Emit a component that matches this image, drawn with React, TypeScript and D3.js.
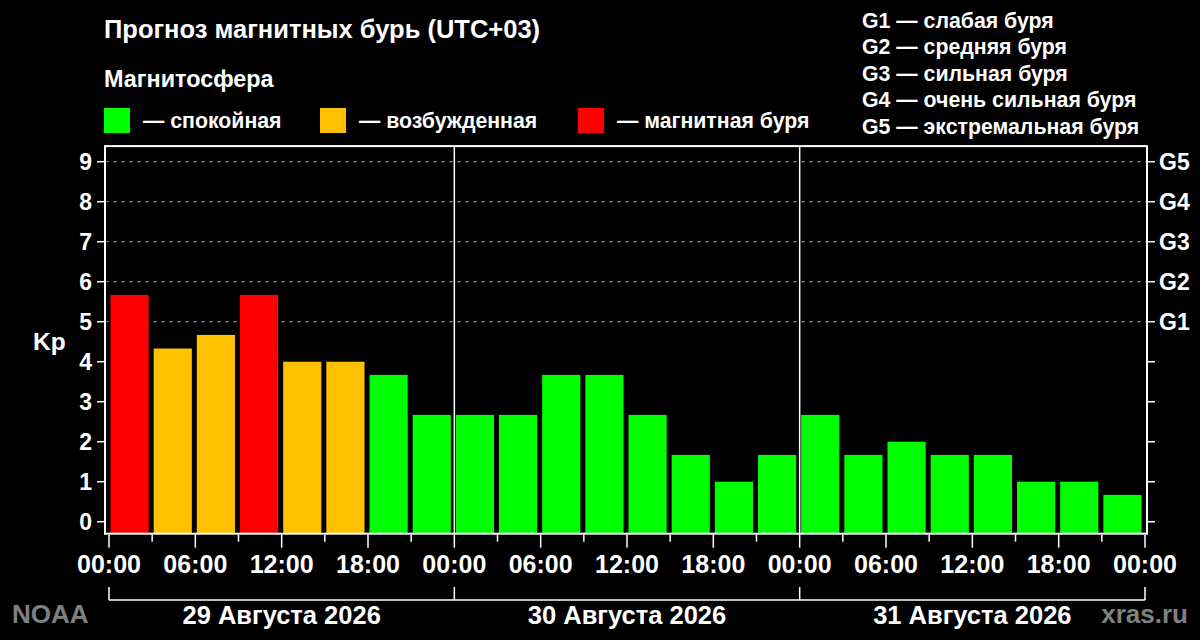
import React, { useEffect } from 'react';
import * as d3 from 'd3';

// Kp forecast, 3-hour intervals, UTC+03
const days = ['29 Августа 2026', '30 Августа 2026', '31 Августа 2026'];
const intervalHours = [0, 3, 6, 9, 12, 15, 18, 21];
const kpDay1 = [5.67, 4.33, 4.67, 5.67, 4.0, 4.0, 3.67, 2.67];
const kpDay2 = [2.67, 2.67, 3.67, 3.67, 2.67, 1.67, 1.0, 1.67];
const kpDay3 = [2.67, 1.67, 2.0, 1.67, 1.67, 1.0, 1.0, 0.67];
const hourLabels = ['00:00', '06:00', '12:00', '18:00'];
const kpTicks = [0, 1, 2, 3, 4, 5, 6, 7, 8, 9];
const stormLevels = ['G1', 'G2', 'G3', 'G4', 'G5'];
const stormNames = ['слабая буря', 'средняя буря', 'сильная буря', 'очень сильная буря', 'экстремальная буря'];
const stateNames = ['спокойная', 'возбужденная', 'магнитная буря'];
const stateColors = ['#00FF00', '#FFC000', '#FF0000'];

const FONT = '"Liberation Sans", Arial, Helvetica, sans-serif';

const kpColor = (kp: number) => (kp >= 5 ? stateColors[2] : kp >= 4 ? stateColors[1] : stateColors[0]);

const App: React.FC = () => {
  useEffect(() => {
    document.body.style.margin = '0';
    document.body.style.background = '#000';
  }, []);

  const width = 1200;
  const height = 640;

  const x = d3.scaleLinear().domain([0, 72]).range([109, 1145]);
  const y = d3.scaleLinear().domain([0, 9]).range([521.7, 161.7]);

  const plotLeft = 105;
  const plotRight = 1147;
  const plotTop = y(9.39);
  const plotBottom = y(-0.3);

  const bars = [kpDay1, kpDay2, kpDay3].flatMap((vals, d) =>
    vals.map((kp, i) => ({ start: d * 24 + intervalHours[i], kp }))
  );

  const hourTicks = d3.range(0, 73, 3);
  const dayBounds = d3.range(0, 73, 24);

  return (
    <svg width={width} height={height} style={{ display: 'block', background: '#000' }} fontFamily={FONT} fontWeight="bold">
      <rect x={0} y={0} width={width} height={height} fill="#000" />

      {/* title and legend */}
      <text x={104} y={38} fill="#fff" fontSize={25.5}>Прогноз магнитных бурь (UTC+03)</text>
      <text x={104} y={87} fill="#fff" fontSize={23.4}>Магнитосфера</text>
      {stateNames.map((name, i) => {
        const lx = [104, 320, 578][i];
        return (
          <g key={name}>
            <rect x={lx} y={108} width={26} height={25} fill={stateColors[i]} />
            <text x={lx + 39} y={128} fill="#fff" fontSize={21.3}>— {name}</text>
          </g>
        );
      })}
      {stormLevels.map((g, i) => (
        <text key={g} x={862} y={28 + i * 26.4} fill="#fff" fontSize={21.3}>{g} — {stormNames[i]}</text>
      ))}

      {/* grid */}
      {kpTicks.filter(k => k >= 5).map(k => (
        <line key={k} x1={plotLeft} x2={plotRight} y1={y(k)} y2={y(k)} stroke="#8a8a8a" strokeWidth={1} strokeDasharray="4,4" />
      ))}

      {/* bars */}
      {bars.map((b, i) => {
        const x0 = x(b.start);
        const x1 = x(b.start + 3);
        return (
          <rect key={i} x={x0 + 1.5} y={y(b.kp)} width={x1 - x0 - 5} height={y(0) - y(b.kp) + 12}
            fill={kpColor(b.kp)} />
        );
      })}

      {/* day dividers */}
      {dayBounds.slice(1, -1).map(h => (
        <line key={h} x1={x(h)} x2={x(h)} y1={plotTop} y2={plotBottom} stroke="#fff" strokeWidth={1.5} />
      ))}

      {/* frame */}
      <rect x={plotLeft} y={plotTop} width={plotRight - plotLeft} height={plotBottom - plotTop} fill="none" stroke="#fff" strokeWidth={2} />

      {/* left axis */}
      {kpTicks.map(k => (
        <g key={k}>
          <line x1={plotLeft - 8} x2={plotLeft} y1={y(k)} y2={y(k)} stroke="#fff" strokeWidth={1.5} />
          <text x={92} y={y(k)} dy="0.36em" textAnchor="end" fill="#fff" fontSize={23}>{k}</text>
        </g>
      ))}
      <text x={33} y={350} fill="#fff" fontSize={24.5}>Kp</text>

      {/* right axis */}
      {kpTicks.map(k => (
        <g key={k}>
          <line x1={plotRight} x2={plotRight + 8} y1={y(k)} y2={y(k)} stroke="#fff" strokeWidth={1.5} />
          {k >= 5 && (
            <text x={1159} y={y(k)} dy="0.36em" fill="#fff" fontSize={23}>{stormLevels[k - 5]}</text>
          )}
        </g>
      ))}

      {/* bottom axis */}
      {hourTicks.map(h => {
        const major = h % 6 === 0;
        return (
          <g key={h}>
            <line x1={x(h)} x2={x(h)} y1={plotBottom + 1} y2={plotBottom + (major ? 14 : 8)} stroke="#fff" strokeWidth={1.5} />
            {major && (
              <text x={x(h)} y={573} textAnchor="middle" fill="#fff" fontSize={25}>{hourLabels[(h % 24) / 6]}</text>
            )}
          </g>
        );
      })}

      {/* day brackets */}
      <line x1={x(0)} x2={x(72)} y1={600} y2={600} stroke="#fff" strokeWidth={1.5} />
      {dayBounds.map(h => (
        <line key={h} x1={x(h)} x2={x(h)} y1={587} y2={600} stroke="#fff" strokeWidth={1.5} />
      ))}
      {days.map((d, i) => (
        <text key={d} x={x(i * 24 + 12)} y={624} textAnchor="middle" fill="#fff" fontSize={25.5}>{d}</text>
      ))}

      <text x={12} y={623} fill="#808080" fontSize={26}>NOAA</text>
      <text x={1188} y={623} textAnchor="end" fill="#808080" fontSize={26}>xras.ru</text>
    </svg>
  );
};

export default App;
